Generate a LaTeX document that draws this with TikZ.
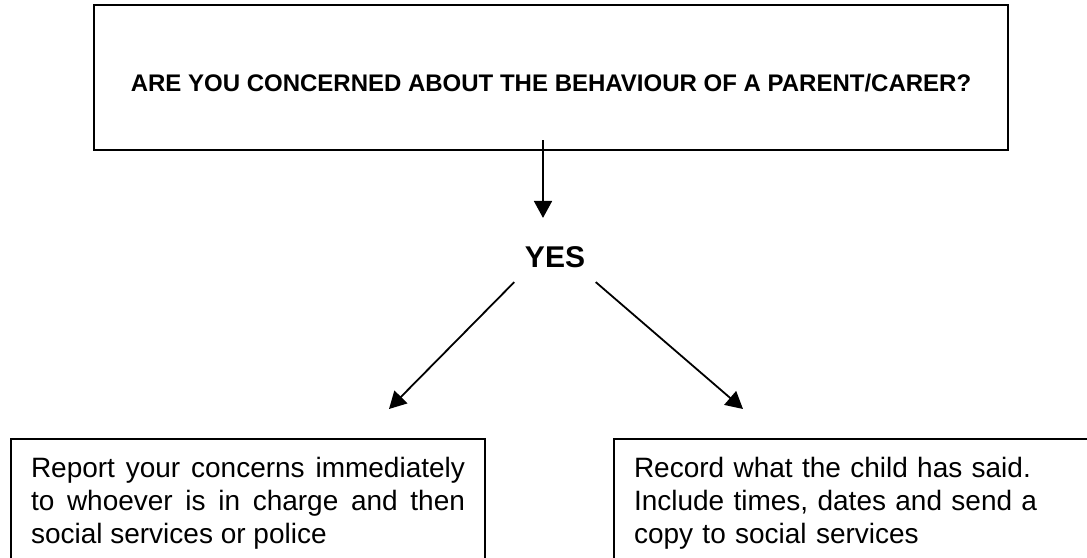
\documentclass[tikz,border=0pt]{standalone}
\usepackage{fontspec}
\setmainfont{Liberation Sans}
\usetikzlibrary{positioning,arrows.meta}

\begin{document}
\begin{tikzpicture}[
    x=1pt, y=1pt,
    every node/.style={font=\fontsize{28}{33}\selectfont},
    box/.style={draw, line width=2pt, rectangle, inner xsep=20pt, inner ysep=18pt, anchor=north west},
    arr/.style={line width=1.8pt, -{Triangle[length=17pt,width=18pt]}}
]
    \useasboundingbox (0,0) rectangle (1087,-557);
    \clip (0,0) rectangle (1087,-557);
    \node [draw, line width=2pt, minimum width=914pt, minimum height=145pt, text height=28.2pt, text depth=0pt, font=\fontsize{24}{29}\selectfont\bfseries] (question) at (551,-77.5) {ARE YOU CONCERNED ABOUT THE BEHAVIOUR OF A PARENT/CARER?};
    \node [font=\fontsize{30}{36}\selectfont\bfseries, inner xsep=10.5pt, inner ysep=14.25pt] (yes) at (555,-257) {YES};
    \node [box, text width=434pt, align=justify] (report) at (10,-438) {Report your concerns immediately\linebreak to whoever is in charge and then\linebreak social services or police};
    \node [box, text width=460pt, align=left] (record) at (613,-438) {Record what the child has said.\\ Include times, dates and send a\\ copy to social services};
    \coordinate (lefttip) at (389,-409);
    \coordinate (righttip) at (743,-409);
    \draw [arr] ([xshift=-8pt,yshift=11pt]question.south) -- ([xshift=-8pt,yshift=14pt]question.south |- yes.north);
    \draw [arr] (yes.south west) -- (lefttip);
    \draw [arr] (yes.south east) -- (righttip);
\end{tikzpicture}
\end{document}
